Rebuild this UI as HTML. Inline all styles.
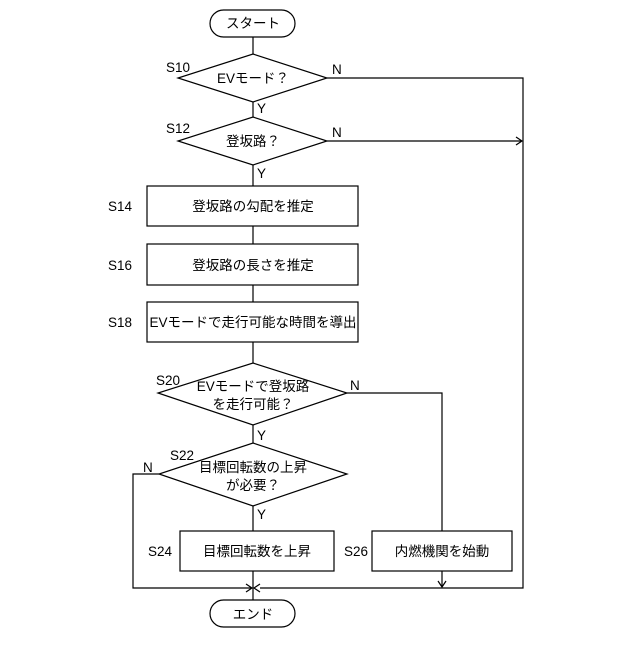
<!DOCTYPE html>
<html><head><meta charset="utf-8"><style>
html,body{margin:0;padding:0;background:#fff}
svg text{font-family:"Liberation Sans","Noto Sans CJK JP",sans-serif;fill:#000}
</style></head><body>
<svg width="640" height="640" viewBox="0 0 640 640" xmlns="http://www.w3.org/2000/svg">
<g fill="none" stroke="#000" stroke-width="1.2">
<rect x="210" y="10" width="85" height="27" rx="13.5"/>
<rect x="210" y="600" width="85" height="27" rx="13.5"/>
<polygon points="253,54 327,78 253,102 178,78"/>
<polygon points="253,117 327,141 253,165 178,141"/>
<rect x="147" y="186" width="211" height="40"/>
<rect x="147" y="244" width="211" height="41"/>
<rect x="147" y="302" width="211" height="40"/>
<polygon points="253,363 347,393 253,425 158,393"/>
<polygon points="253,443 347,474 253,506 159,474"/>
<rect x="180" y="531" width="154" height="40"/>
<rect x="372" y="531" width="140" height="40"/>
<path d="M253 37V54M253 102V117M253 165V186M253 226V244M253 285V302M253 342V363M253 425V443M253 506V531M253 571V600"/>
<path d="M327 78H523V588H260"/>
<path d="M327 141H522M516 137L522 141L516 145"/>
<path d="M347 393H442V531M442 571V587M438 581L442 587L446 581"/>
<path d="M159 474H133V588H252M246 584L252 588L246 592"/>
<path d="M260 584L254 588L260 592"/>
</g>
<g font-size="13.5">
<text x="253" y="28" text-anchor="middle">スタート</text>
<text x="253" y="619" text-anchor="middle">エンド</text>
<text x="253" y="83" text-anchor="middle">EVモード？</text>
<text x="253" y="146" text-anchor="middle">登坂路？</text>
<text x="253" y="211" text-anchor="middle">登坂路の勾配を推定</text>
<text x="253" y="270" text-anchor="middle">登坂路の長さを推定</text>
<text x="253" y="327" text-anchor="middle">EVモードで走行可能な時間を導出</text>
<text x="253" y="391" text-anchor="middle">EVモードで登坂路</text>
<text x="253" y="409" text-anchor="middle">を走行可能？</text>
<text x="253" y="472" text-anchor="middle">目標回転数の上昇</text>
<text x="253" y="490" text-anchor="middle">が必要？</text>
<text x="257" y="556" text-anchor="middle">目標回転数を上昇</text>
<text x="442" y="556" text-anchor="middle">内燃機関を始動</text>
<text x="166" y="72">S10</text>
<text x="166" y="133">S12</text>
<text x="108" y="211">S14</text>
<text x="108" y="270">S16</text>
<text x="108" y="327">S18</text>
<text x="156" y="385">S20</text>
<text x="170" y="460">S22</text>
<text x="148" y="556">S24</text>
<text x="344" y="556">S26</text>
<text x="332" y="74">N</text>
<text x="332" y="137">N</text>
<text x="350" y="390">N</text>
<text x="143" y="472">N</text>
<text x="257" y="113">Y</text>
<text x="257" y="178">Y</text>
<text x="257" y="440">Y</text>
<text x="257" y="519">Y</text>
</g>
</svg>
</body></html>
